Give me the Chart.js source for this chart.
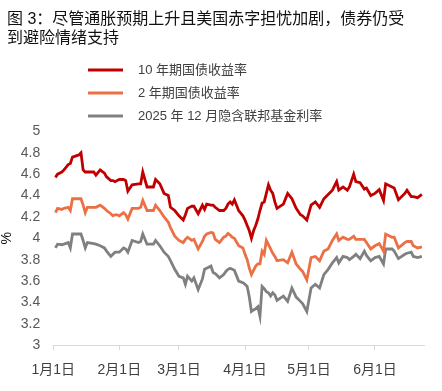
<!DOCTYPE html>
<html>
<head>
<meta charset="utf-8">
<script src="https://cdn.jsdelivr.net/npm/chart.js@4.4.1/dist/chart.umd.min.js"></script>
<style>
  html, body { margin: 0; padding: 0; background: #fff; }
  canvas { display: block; }
</style>
</head>
<body>
<canvas id="myChart" width="442" height="391"></canvas>
<script>
const titleLines = ['图 3：尽管通胀预期上升且美国赤字担忧加剧，债券仍受', '到避险情绪支持'];
const seriesNames = ['10 年期国债收益率', '2 年期国债收益率', '2025 年 12 月隐含联邦基金利率'];
const seriesColors = ['#c00000', '#ec7046', '#808080'];

const monthTicks = ['2025-01-01', '2025-02-01', '2025-03-01', '2025-04-01', '2025-05-01', '2025-06-01'];
const monthLabels = ['1月1日', '2月1日', '3月1日', '4月1日', '5月1日', '6月1日'];

const dates = [
  '01-02', '01-03', '01-05', '01-06', '01-08', '01-09', '01-10', '01-13', '01-14', '01-15',
  '01-16', '01-17', '01-20', '01-21', '01-23', '01-25', '01-26', '01-28', '01-29', '01-30',
  '01-31', '02-01', '02-03', '02-04', '02-05', '02-07', '02-10', '02-11', '02-12', '02-14',
  '02-17', '02-18', '02-20', '02-22', '02-24', '02-25', '02-27', '03-01', '03-03', '03-04',
  '03-05', '03-07', '03-08', '03-10', '03-12', '03-13', '03-14', '03-16', '03-17', '03-18',
  '03-20', '03-22', '03-23', '03-24', '03-25', '03-26', '03-27', '03-29', '03-31', '04-01',
  '04-02', '04-03', '04-04', '04-05', '04-06', '04-07', '04-08', '04-09', '04-10', '04-11',
  '04-12', '04-13', '04-14', '04-15', '04-16', '04-19', '04-21', '04-23', '04-25', '04-27',
  '04-28', '04-30', '05-02', '05-04', '05-06', '05-08', '05-10', '05-12', '05-14', '05-15',
  '05-17', '05-19', '05-20', '05-22', '05-23', '05-25', '05-27', '05-28', '05-30', '06-01',
  '06-03', '06-05', '06-06', '06-09', '06-10', '06-12', '06-15', '06-16', '06-18', '06-19',
  '06-21', '06-23'
];

const yield10y = [
  4.57, 4.60, 4.62, 4.64, 4.69, 4.70, 4.76, 4.78, 4.80, 4.64,
  4.62, 4.62, 4.62, 4.59, 4.64, 4.61, 4.575, 4.54, 4.54, 4.53,
  4.54, 4.55, 4.55, 4.54, 4.44, 4.50, 4.51, 4.51, 4.62, 4.48,
  4.48, 4.55, 4.51, 4.42, 4.40, 4.29, 4.26, 4.21, 4.17, 4.22,
  4.28, 4.30, 4.30, 4.23, 4.31, 4.27, 4.32, 4.31, 4.31, 4.29,
  4.26, 4.26, 4.28, 4.32, 4.34, 4.32, 4.36, 4.26, 4.21, 4.17,
  4.12, 4.07, 4.00, 4.07, 4.12, 4.18, 4.26, 4.33, 4.34, 4.42,
  4.50, 4.45, 4.42, 4.34, 4.28, 4.32, 4.42, 4.37, 4.28, 4.22,
  4.21, 4.17, 4.31, 4.34, 4.29, 4.37, 4.41, 4.45, 4.53, 4.45,
  4.48, 4.45, 4.48, 4.60, 4.53, 4.52, 4.46, 4.47, 4.40, 4.42,
  4.455, 4.355, 4.51, 4.48, 4.47, 4.36, 4.42, 4.45, 4.39, 4.39,
  4.38, 4.41
];

const yield2y = [
  4.24, 4.28, 4.27, 4.28, 4.29, 4.26, 4.37, 4.37, 4.37, 4.31,
  4.24, 4.29, 4.29, 4.29, 4.31, 4.28, 4.26, 4.23, 4.21, 4.22,
  4.22, 4.21, 4.24, 4.22, 4.18, 4.28, 4.28, 4.29, 4.355, 4.26,
  4.26, 4.31, 4.26, 4.20, 4.15, 4.10, 4.02, 3.98, 3.96, 3.99,
  4.01, 3.98, 3.99, 3.90, 3.97, 4.02, 4.04, 4.055, 4.05, 3.99,
  3.96, 4.01, 4.02, 4.045, 4.03, 4.01, 4.00, 3.93, 3.91, 3.85,
  3.80, 3.72, 3.66, 3.70, 3.74, 3.76, 3.76, 3.88, 3.85, 3.98,
  3.94, 3.90, 3.86, 3.83, 3.79, 3.80, 3.77, 3.87, 3.76, 3.71,
  3.69, 3.61, 3.82, 3.83, 3.79, 3.88, 3.90, 3.98, 4.04, 3.98,
  4.01, 3.99, 3.99, 4.02, 3.99, 3.99, 3.99, 3.96, 3.90, 3.93,
  3.95, 3.88, 4.04, 4.01, 4.01, 3.91, 3.96, 3.97, 3.97, 3.93,
  3.91, 3.92
];

const fedDec25 = [
  3.91, 3.945, 3.94, 3.945, 3.96, 3.91, 4.04, 4.04, 4.04, 3.98,
  3.91, 3.96, 3.95, 3.945, 3.93, 3.91, 3.88, 3.83, 3.85, 3.87,
  3.87, 3.87, 3.91, 3.90, 3.87, 3.98, 3.96, 3.97, 4.04, 3.945,
  3.945, 3.98, 3.93, 3.87, 3.83, 3.79, 3.71, 3.645, 3.63, 3.57,
  3.645, 3.60, 3.63, 3.52, 3.62, 3.71, 3.72, 3.74, 3.68, 3.67,
  3.63, 3.66, 3.69, 3.71, 3.72, 3.71, 3.70, 3.60, 3.585, 3.57,
  3.55, 3.45, 3.315, 3.33, 3.34, 3.36, 3.27, 3.55, 3.53, 3.50,
  3.49, 3.46, 3.49, 3.47, 3.42, 3.46, 3.41, 3.535, 3.45, 3.41,
  3.39, 3.315, 3.535, 3.57, 3.535, 3.66, 3.71, 3.77, 3.82, 3.77,
  3.83, 3.82, 3.80, 3.83, 3.85, 3.81, 3.88, 3.84, 3.79, 3.82,
  3.83, 3.76, 3.90, 3.90, 3.88, 3.81, 3.85, 3.86, 3.87, 3.83,
  3.82, 3.83
];

const FONT = '"Liberation Sans", "Noto Sans CJK SC", sans-serif';

// day number counted from 1 Jan 2025
function dayOf(str) {
  const full = str.length === 5 ? '2025-' + str : str;
  const [y, m, d] = full.split('-').map(Number);
  return (Date.UTC(y, m - 1, d) - Date.UTC(2025, 0, 1)) / 86400000;
}

function toPoints(values) {
  return values.map((v, i) => ({ x: dayOf(dates[i]), y: v }));
}

const tickDays = monthTicks.map(dayOf);

const lineLegend = {
  id: 'lineLegend',
  afterDraw(chart) {
    const ctx = chart.ctx;
    ctx.save();
    ctx.font = '13px ' + FONT;
    ctx.textBaseline = 'middle';
    ctx.textAlign = 'left';
    chart.data.datasets.forEach((ds, i) => {
      const y = 70 + i * 23;
      ctx.strokeStyle = ds.borderColor;
      ctx.lineWidth = 3;
      ctx.beginPath();
      ctx.moveTo(88, y);
      ctx.lineTo(123, y);
      ctx.stroke();
      ctx.fillStyle = '#404040';
      ctx.fillText(ds.label, 138, y);
    });
    ctx.restore();
  }
};

const allSeries = [yield10y, yield2y, fedDec25];

const ctx = document.getElementById('myChart').getContext('2d');
new Chart(ctx, {
  type: 'line',
  data: {
    datasets: allSeries.map((vals, i) => ({
      label: seriesNames[i],
      data: toPoints(vals),
      borderColor: seriesColors[i],
      backgroundColor: seriesColors[i],
      borderWidth: 2.8,
      pointRadius: 0,
      tension: 0,
      fill: false
    }))
  },
  options: {
    responsive: false,
    animation: false,
    layout: { padding: { left: 7, right: 18, top: 0, bottom: 0 } },
    plugins: {
      legend: { display: false },
      tooltip: { enabled: false },
      title: {
        display: true,
        text: titleLines,
        align: 'start',
        color: '#111',
        font: { family: FONT, size: 16, weight: 'normal', lineHeight: 1.2 },
        padding: { top: 10, bottom: 83 }
      }
    },
    scales: {
      x: {
        type: 'linear',
        min: 0,
        max: 174,
        afterBuildTicks: (scale) => {
          scale.ticks = tickDays.map(v => ({ value: v }));
        },
        ticks: {
          autoSkip: false,
          maxRotation: 0,
          padding: 12,
          color: '#404040',
          font: { family: FONT, size: 14 },
          callback: (value) => monthLabels[tickDays.indexOf(value)]
        },
        grid: {
          drawOnChartArea: false,
          drawTicks: true,
          tickLength: 5,
          color: '#d9d9d9'
        },
        border: { display: true, color: '#d9d9d9', width: 1 }
      },
      y: {
        min: 3,
        max: 5,
        afterFit: (scale) => { scale.width = 46.3; },
        ticks: {
          stepSize: 0.2,
          padding: 13,
          color: '#595959',
          font: { family: FONT, size: 14 },
          callback: (value) => String(Number(value.toFixed(1)))
        },
        grid: { display: false, drawTicks: false },
        border: { display: false },
        title: {
          display: true,
          text: '%',
          color: '#111',
          font: { family: FONT, size: 14 },
          padding: { top: -8, bottom: 0 }
        }
      }
    }
  },
  plugins: [lineLegend]
});
</script>
</body>
</html>
